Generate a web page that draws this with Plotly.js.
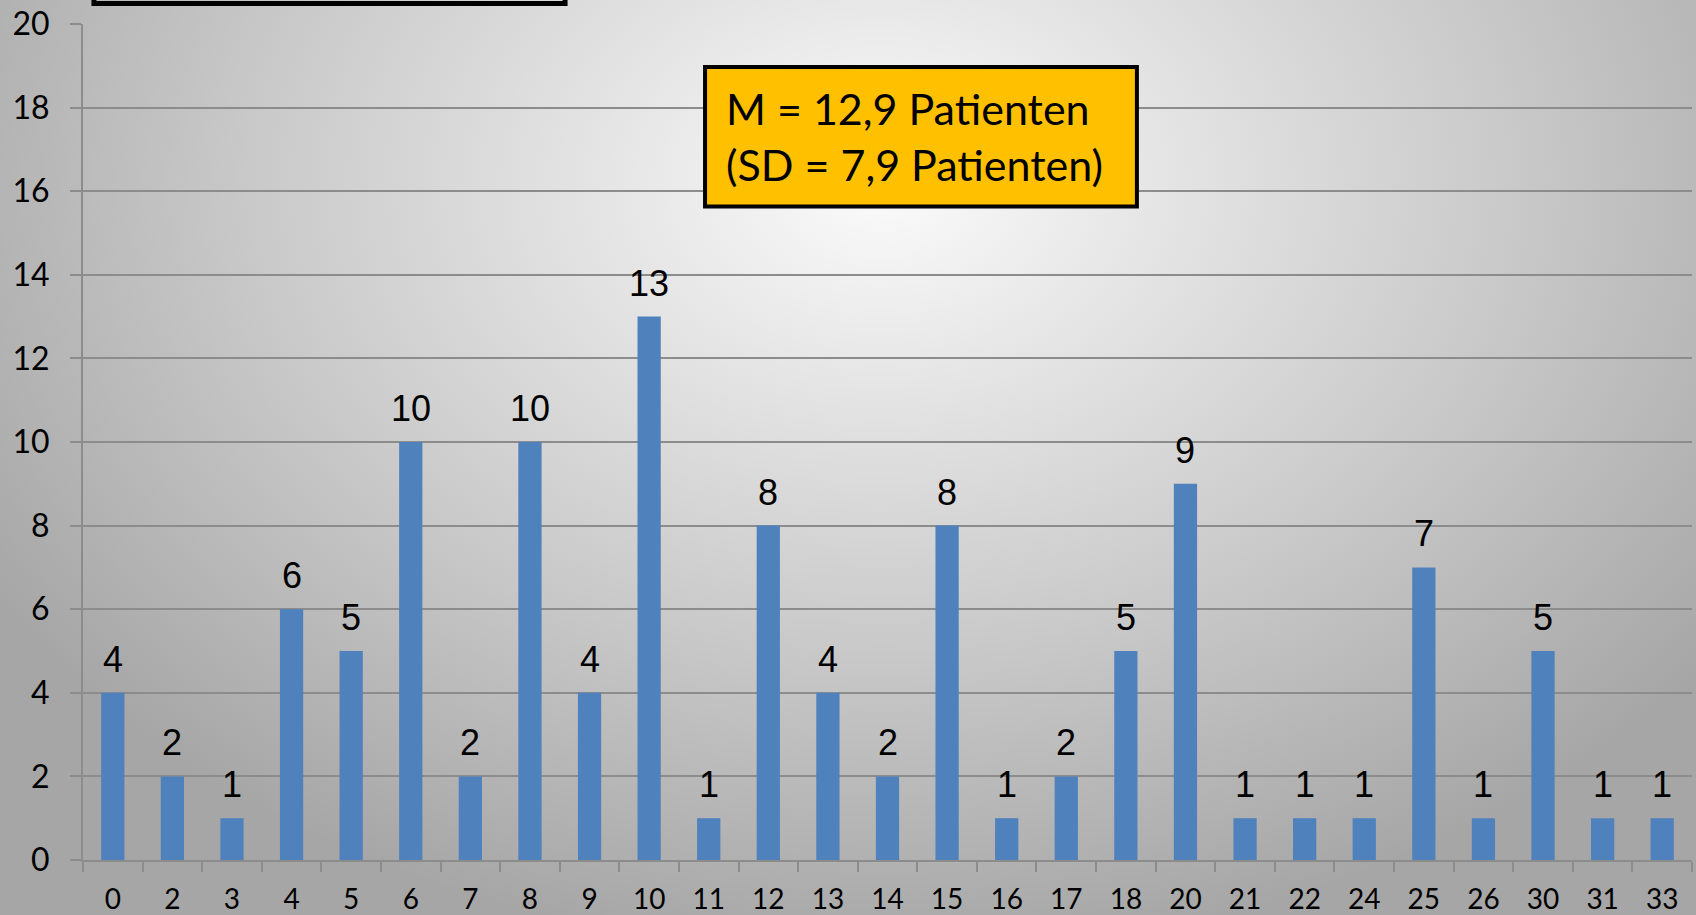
<!DOCTYPE html>
<html>
<head>
<meta charset="utf-8">
<script src="https://cdn.plot.ly/plotly-3.0.1.min.js"></script>
<style>
  html, body { margin: 0; padding: 0; width: 1696px; height: 915px; overflow: hidden; }
  body {
    background: radial-gradient(ellipse 62% 85% at 52% 20%, #fbfbfb 0%, #e6e6e6 25%, #c9c9c9 60%, #a6a6a6 100%);
  }
  #chart { width: 1696px; height: 915px; }
</style>
</head>
<body>
<div id="chart"></div>
<script>
const categories = ['0','2','3','4','5','6','7','8','9','10','11','12','13','14','15','16','17','18','20','21','22','24','25','26','30','31','33'];
const values = [4,2,1,6,5,10,2,10,4,13,1,8,4,2,8,1,2,5,9,1,1,1,7,1,5,1,1];
const yTicks = [0,2,4,6,8,10,12,14,16,18,20];
const boxLines = ['M = 12,9 Patienten', '(SD = 7,9 Patienten)'];

const trace = {
  type: 'bar',
  x: categories,
  y: values,
  marker: { color: '#4F81BD', line: { width: 0 } },
  hoverinfo: 'x+y'
};

// category axis: annotations are positioned by category index
const labelAnnotations = categories.map((c, i) => ({
  x: i, y: values[i], xref: 'x', yref: 'y',
  text: String(values[i]),
  showarrow: false,
  yanchor: 'bottom',
  yshift: 11,
  font: { family: 'Liberation Sans, Arial, sans-serif', size: 36, color: '#000000' }
}));

const layout = {
  width: 1696,
  height: 915,
  paper_bgcolor: 'rgba(0,0,0,0)',
  plot_bgcolor: 'rgba(0,0,0,0)',
  margin: { l: 83, r: 4, t: 24, b: 55 },
  bargap: 0.61,
  showlegend: false,
  xaxis: {
    type: 'category',
    categoryorder: 'array',
    categoryarray: categories,
    range: [-0.5, categories.length - 0.5],
    tickvals: categories,
    ticktext: categories,
    showline: true,
    linecolor: '#8c8c8c',
    linewidth: 2,
    ticks: 'outside',
    tickson: 'boundaries',
    ticklen: 10,
    tickwidth: 2,
    tickcolor: '#8c8c8c',
    showgrid: false,
    ticklabelstandoff: 13,
    tickfont: { family: 'Lato, "Open Sans", sans-serif', size: 28, color: '#000000' },
    fixedrange: true
  },
  yaxis: {
    range: [0, 20],
    tickvals: yTicks,
    ticktext: yTicks.map(String),
    showline: true,
    linecolor: '#8c8c8c',
    linewidth: 2,
    ticks: 'outside',
    ticklen: 11,
    tickwidth: 2,
    tickcolor: '#8c8c8c',
    showgrid: true,
    gridcolor: '#8c8c8c',
    gridwidth: 2,
    zeroline: false,
    ticklabelstandoff: 14,
    tickfont: { family: 'Lato, "Open Sans", sans-serif', size: 32, color: '#000000' },
    fixedrange: true
  },
  shapes: [
    {
      type: 'rect', xref: 'paper', yref: 'paper',
      x0: 0.3866, x1: 0.6550, y0: 0.7818, y1: 0.9487,
      fillcolor: '#FFC000',
      line: { color: '#000000', width: 4 },
      layer: 'above'
    },
    {
      type: 'rect', xref: 'paper', yref: 'paper',
      x0: 0.0068, x1: 0.2996, y0: 1.0245, y1: 1.12,
      fillcolor: 'rgba(0,0,0,0)',
      line: { color: '#000000', width: 5 },
      layer: 'above'
    }
  ],
  annotations: labelAnnotations.concat([
    {
      xref: 'paper', yref: 'paper',
      x: 0.3982, y: 0.8660,
      xanchor: 'left', yanchor: 'middle',
      align: 'left',
      showarrow: false,
      text: boxLines.join('<br>'),
      font: { family: 'Lato, "Open Sans", sans-serif', size: 43, color: '#000000' }
    }
  ])
};

Plotly.newPlot('chart', [trace], layout, { displayModeBar: false, staticPlot: true });
</script>
</body>
</html>
